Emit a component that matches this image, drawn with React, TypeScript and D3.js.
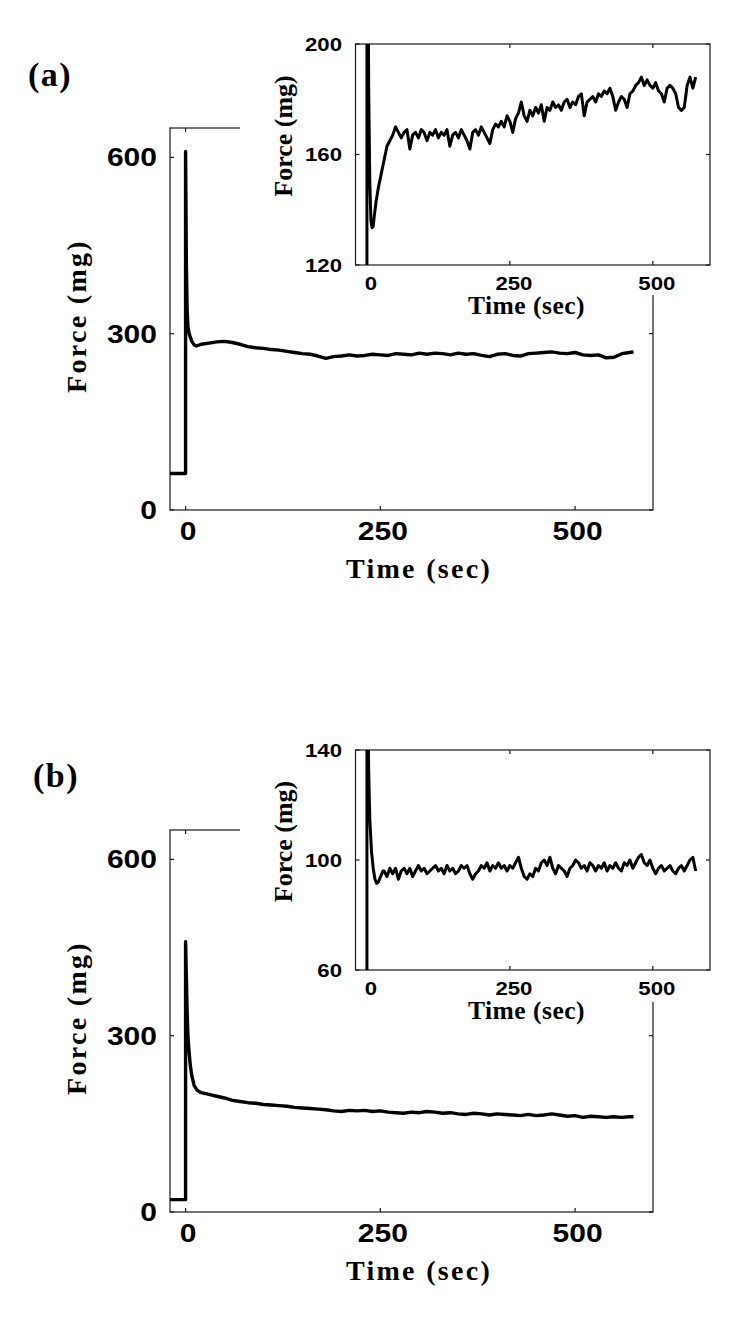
import React from "react";
import * as d3 from "d3";

const W = 750;
const H = 1323;

// ---------- tick labels ----------
const timeTicks = [0, 250, 500];
const mainForceTicks = [0, 300, 600];
const insetATicks = [120, 160, 200];
const insetBTicks = [60, 100, 140];

// ---------- panel (a), main trace ----------
const mainATransientT = [-20, 0, 0, 1, 2, 3, 5, 8, 11, 14];
const mainATransientF = [62, 62, 610, 420, 340, 312, 298, 287, 281, 279];
// t = 20 .. 570 every 10 s
const mainASteady = [
  282, 284, 286, 287, 285, 282, 278, 276, 275, 273,
  272, 270, 268, 266, 265, 262, 258, 261, 262, 264,
  262, 263, 265, 264, 263, 266, 265, 264, 267, 265,
  267, 266, 264, 267, 265, 266, 263, 261, 265, 266,
  263, 262, 266, 267, 268, 269, 267, 266, 268, 264,
  263, 264, 259, 260, 266, 268,
];
const mainATailT = [575];
const mainATailF = [269];

// ---------- panel (a), inset trace ----------
const insetATransientT = [-20, 0, 0, 1.5, 3, 5, 7, 9, 11, 13, 16, 20, 25];
const insetATransientF = [62, 62, 610, 260, 185, 150, 136, 133.5, 134, 138, 143, 148, 153];
// t = 30 .. 575 every 5 s
const insetASteady = [
  158, 163, 165, 167, 170, 168, 166, 168, 169, 162,
  167, 168, 166, 169, 168, 165, 168, 167, 169, 166,
  168, 167, 169, 163, 167, 168, 166, 169, 167, 165,
  162, 168, 169, 167, 170, 168, 166, 164, 169, 171,
  170, 172, 170, 174, 172, 168, 173, 175, 179, 174,
  172, 176, 174, 177, 175, 178, 172, 177, 176, 179,
  177, 178, 176, 179, 180, 177, 179, 178, 181, 182,
  174, 179, 180, 181, 179, 182, 181, 183, 182, 184,
  181, 176, 179, 181, 180, 177, 182, 183, 185, 186,
  188, 185, 187, 185, 184, 186, 183, 182, 179, 184,
  185, 184, 182, 177, 176, 177, 185, 188, 184, 188,
];

// ---------- panel (b), main trace ----------
const mainBTransientT = [-20, 0, 0, 1, 2, 3, 4, 6, 8, 11, 15];
const mainBTransientF = [21, 21, 460, 400, 340, 300, 280, 250, 232, 215, 207];
// t = 20 .. 570 every 10 s
const mainBSteady = [
  203, 200, 197, 194, 190, 188, 186, 185, 183, 182,
  181, 180, 178, 177, 176, 175, 174, 172, 171, 173,
  172, 173, 171, 172, 170, 169, 168, 170, 169, 171,
  170, 168, 169, 167, 166, 168, 167, 165, 167, 166,
  165, 164, 166, 164, 165, 167, 165, 163, 164, 161,
  163, 162, 161, 162, 161, 162,
];
const mainBTailT = [575];
const mainBTailF = [162];

// ---------- panel (b), inset trace ----------
const insetBTransientT = [-20, 0, 0, 1, 2, 3, 5, 8, 11, 14, 17, 20, 24, 28];
const insetBTransientF = [21, 21, 460, 250, 150, 133, 115, 103, 97, 93, 91.5, 92, 94, 96];
// t = 30 .. 575 every 5 s
const insetBSteady = [
  96, 94, 97, 95, 97, 93, 96, 97, 95, 97,
  94, 96, 98, 96, 97, 95, 96, 97, 98, 96,
  97, 95, 98, 96, 97, 95, 96, 98, 97, 98,
  95, 93, 95, 96, 98, 97, 99, 96, 98, 97,
  99, 97, 98, 96, 98, 97, 99, 101, 97, 94,
  93, 95, 94, 97, 96, 99, 100, 98, 101, 97,
  95, 98, 97, 96, 94, 97, 98, 100, 99, 97,
  98, 96, 99, 98, 96, 98, 97, 99, 96, 98,
  97, 99, 97, 96, 99, 98, 100, 97, 99, 101,
  102, 99, 98, 100, 97, 95, 97, 98, 96, 97,
  98, 96, 95, 97, 98, 96, 98, 100, 101, 96,
];

type Pt = [number, number];

function buildSeries(
  tt: number[],
  tf: number[],
  start: number,
  step: number,
  vals: number[],
  tailT: number[] = [],
  tailF: number[] = []
): Pt[] {
  const out: Pt[] = [];
  tt.forEach((t, i) => out.push([t, tf[i]]));
  vals.forEach((v, i) => out.push([start + i * step, v]));
  tailT.forEach((t, i) => out.push([t, tailF[i]]));
  return out;
}

const SANS = "'Liberation Sans', Arial, Helvetica, sans-serif";
const SERIF = "'Liberation Serif', 'Times New Roman', Times, serif";

type Box = { left: number; right: number; top: number; bottom: number };

interface PanelProps {
  id: string;
  label: string;
  labelX: number;
  labelY: number;
  main: Box;
  inset: Box;
  cover: Box;
  mainData: Pt[];
  insetData: Pt[];
  insetDomain: [number, number];
  insetTicks: number[];
}

const FRAME = "#1a1a1a";

function Panel(p: PanelProps) {
  const { main, inset, cover } = p;
  const x = d3.scaleLinear().domain([-20, 600]).range([main.left, main.right]);
  const y = d3.scaleLinear().domain([0, 650]).range([main.bottom, main.top]);
  const xi = d3.scaleLinear().domain([-20, 600]).range([inset.left, inset.right]);
  const yi = d3.scaleLinear().domain(p.insetDomain).range([inset.bottom, inset.top]);

  const lineMain = d3
    .line<Pt>()
    .x((d) => x(d[0]))
    .y((d) => y(d[1]));
  const lineInset = d3
    .line<Pt>()
    .x((d) => xi(d[0]))
    .y((d) => yi(d[1]));

  const tk = 4;
  const mainCx = (main.top + main.bottom) / 2 - 3;
  const insetCy = (inset.top + inset.bottom) / 2 - 18.5;

  return (
    <g>
      <defs>
        <clipPath id={`clipMain${p.id}`}>
          <rect x={main.left} y={main.top} width={main.right - main.left} height={main.bottom - main.top} />
        </clipPath>
        <clipPath id={`clipInset${p.id}`}>
          <rect x={inset.left} y={inset.top} width={inset.right - inset.left} height={inset.bottom - inset.top} />
        </clipPath>
      </defs>

      {/* panel label */}
      <text x={p.labelX} y={p.labelY} fontFamily={SERIF} fontWeight="bold" fontSize={34} letterSpacing={1.5}>
        {p.label}
      </text>

      {/* ---- main axes ---- */}
      <rect
        x={main.left}
        y={main.top}
        width={main.right - main.left}
        height={main.bottom - main.top}
        fill="none"
        stroke={FRAME}
        strokeWidth={1.2}
      />
      {mainForceTicks.map((v) => (
        <g key={`my${v}`}>
          <line x1={main.left} x2={main.left + tk} y1={y(v)} y2={y(v)} stroke={FRAME} strokeWidth={1.2} />
          <line x1={main.right} x2={main.right - tk} y1={y(v)} y2={y(v)} stroke={FRAME} strokeWidth={1.2} />
          <text
            transform={`translate(${main.left - 13},${y(v) + 9}) scale(1.2,1)`}
            textAnchor="end"
            fontFamily={SANS}
            fontWeight="bold"
            fontSize={25}
          >
            {v}
          </text>
        </g>
      ))}
      {timeTicks.map((v) => (
        <g key={`mx${v}`}>
          <line x1={x(v)} x2={x(v)} y1={main.bottom} y2={main.bottom - tk} stroke={FRAME} strokeWidth={1.2} />
          <line x1={x(v)} x2={x(v)} y1={main.top} y2={main.top + tk} stroke={FRAME} strokeWidth={1.2} />
          <text
            transform={`translate(${x(v) + 2.5},${main.bottom + 30}) scale(1.2,1)`}
            textAnchor="middle"
            fontFamily={SANS}
            fontWeight="bold"
            fontSize={25}
          >
            {v}
          </text>
        </g>
      ))}
      <text
        x={419}
        y={main.bottom + 68}
        textAnchor="middle"
        fontFamily={SERIF}
        fontWeight="bold"
        fontSize={28}
        letterSpacing={2.3}
      >
        Time (sec)
      </text>
      <text
        transform={`translate(86,${mainCx}) rotate(-90)`}
        textAnchor="middle"
        fontFamily={SERIF}
        fontWeight="bold"
        fontSize={28}
        letterSpacing={2.3}
      >
        Force (mg)
      </text>
      <path
        d={lineMain(p.mainData) || ""}
        fill="none"
        stroke="#000"
        strokeWidth={3.4}
        strokeLinejoin="round"
        clipPath={`url(#clipMain${p.id})`}
      />

      {/* ---- inset cover ---- */}
      <rect x={cover.left} y={cover.top} width={cover.right - cover.left} height={cover.bottom - cover.top} fill="#fff" />

      {/* ---- inset axes ---- */}
      <rect
        x={inset.left}
        y={inset.top}
        width={inset.right - inset.left}
        height={inset.bottom - inset.top}
        fill="none"
        stroke={FRAME}
        strokeWidth={1.2}
      />
      {p.insetTicks.map((v) => (
        <g key={`iy${v}`}>
          <line x1={inset.left} x2={inset.left + tk} y1={yi(v)} y2={yi(v)} stroke={FRAME} strokeWidth={1.2} />
          <line x1={inset.right} x2={inset.right - tk} y1={yi(v)} y2={yi(v)} stroke={FRAME} strokeWidth={1.2} />
          <text
            transform={`translate(342,${yi(v) + 6.6}) scale(1.2,1)`}
            textAnchor="end"
            fontFamily={SANS}
            fontWeight="bold"
            fontSize={18.5}
          >
            {v}
          </text>
        </g>
      ))}
      {timeTicks.map((v) => (
        <g key={`ix${v}`}>
          <line x1={xi(v)} x2={xi(v)} y1={inset.bottom} y2={inset.bottom - tk} stroke={FRAME} strokeWidth={1.2} />
          <line x1={xi(v)} x2={xi(v)} y1={inset.top} y2={inset.top + tk} stroke={FRAME} strokeWidth={1.2} />
          <text
            transform={`translate(${xi(v) + 4},${inset.bottom + 25}) scale(1.2,1)`}
            textAnchor="middle"
            fontFamily={SANS}
            fontWeight="bold"
            fontSize={18.5}
          >
            {v}
          </text>
        </g>
      ))}
      <text
        x={526.5}
        y={inset.bottom + 49}
        textAnchor="middle"
        fontFamily={SERIF}
        fontWeight="bold"
        fontSize={25.5}
        letterSpacing={0.5}
      >
        Time (sec)
      </text>
      <text
        transform={`translate(292,${insetCy}) rotate(-90)`}
        textAnchor="middle"
        fontFamily={SERIF}
        fontWeight="bold"
        fontSize={26}
      >
        Force (mg)
      </text>
      <path
        d={lineInset(p.insetData) || ""}
        fill="none"
        stroke="#000"
        strokeWidth={3}
        strokeLinejoin="round"
        clipPath={`url(#clipInset${p.id})`}
      />
    </g>
  );
}

export default function App() {
  const mainA = buildSeries(mainATransientT, mainATransientF, 20, 10, mainASteady, mainATailT, mainATailF);
  const insetA = buildSeries(insetATransientT, insetATransientF, 30, 5, insetASteady);
  const mainB = buildSeries(mainBTransientT, mainBTransientF, 20, 10, mainBSteady, mainBTailT, mainBTailF);
  const insetB = buildSeries(insetBTransientT, insetBTransientF, 30, 5, insetBSteady);

  return (
    <svg
      width={W}
      height={H}
      viewBox={`0 0 ${W} ${H}`}
      style={{ position: "absolute", left: 0, top: 0, background: "#fff" }}
    >
      <rect x={0} y={0} width={W} height={H} fill="#fff" />
      <Panel
        id="a"
        label="(a)"
        labelX={28}
        labelY={86}
        main={{ left: 170, right: 653, top: 128, bottom: 510 }}
        inset={{ left: 355.5, right: 710, top: 44, bottom: 265 }}
        cover={{ left: 240, right: 750, top: 0, bottom: 295 }}
        mainData={mainA}
        insetData={insetA}
        insetDomain={[120, 200]}
        insetTicks={insetATicks}
      />
      <Panel
        id="b"
        label="(b)"
        labelX={33}
        labelY={787}
        main={{ left: 170, right: 653, top: 830, bottom: 1212 }}
        inset={{ left: 355.5, right: 710, top: 750, bottom: 970 }}
        cover={{ left: 240, right: 750, top: 700, bottom: 1002 }}
        mainData={mainB}
        insetData={insetB}
        insetDomain={[60, 140]}
        insetTicks={insetBTicks}
      />
    </svg>
  );
}
